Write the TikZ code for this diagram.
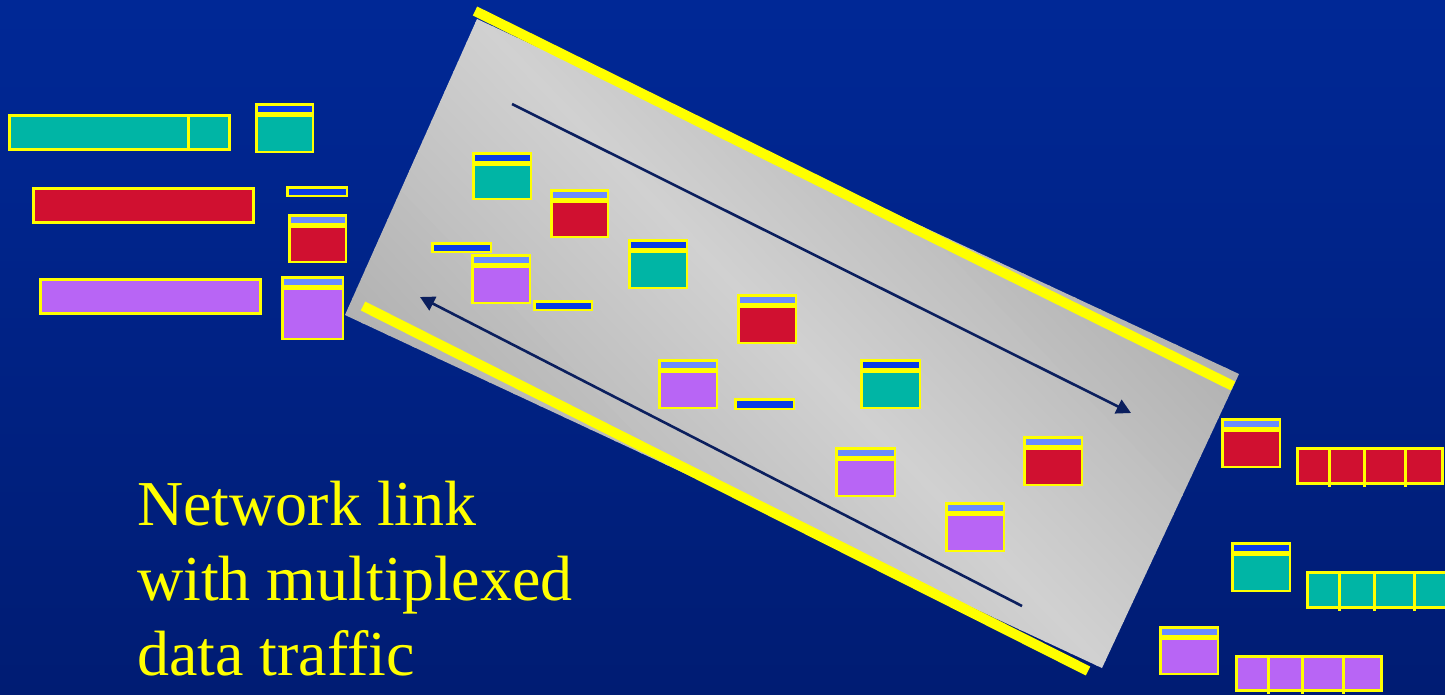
\documentclass[tikz,border=0pt]{standalone}
\usepackage{fontspec}
\setmainfont{Liberation Serif}
\usetikzlibrary{arrows.meta}
\definecolor{bgtop}{RGB}{0,40,150}
\definecolor{bgbot}{RGB}{0,28,115}
\definecolor{pyellow}{RGB}{255,255,0}
\definecolor{pteal}{RGB}{0,181,165}
\definecolor{pred}{RGB}{208,16,48}
\definecolor{ppurple}{RGB}{184,101,245}
\definecolor{hdark}{RGB}{10,60,230}
\definecolor{hlight}{RGB}{106,140,255}
\definecolor{navy}{RGB}{11,31,94}
\definecolor{bandlight}{RGB}{209,209,209}
\definecolor{banddark}{RGB}{176,176,176}
\tikzset{
  flowarrow/.style={draw=navy, line width=2.6pt, -{Triangle[length=14.5pt,width=15pt]}},
  railbar/.style={draw=pyellow, line width=10pt, line cap=butt},
  caption/.style={anchor=base west, text=pyellow, inner sep=0pt, font=\fontsize{64}{75}\selectfont},
  divider/.style={draw=pyellow, line width=3pt}
}
% packet: x1 y1 x2 y2 headercolour bodycolour
\newcommand{\pkt}[6]{%
  \fill[pyellow] (#1,#2) rectangle (#3,#4);
  \fill[#5] ({#1+2.5},{#2+2.5}) rectangle ({#3-2.5},{#2+9});
  \fill[#6] ({#1+2.5},{#2+13.5}) rectangle ({#3-2.5},{#4-2.5});}
% acknowledgement bar: x1 y1 x2 y2
\newcommand{\ackbar}[4]{%
  \fill[pyellow] (#1,#2) rectangle (#3,#4);
  \fill[hdark] ({#1+2.5},{#2+2.5}) rectangle ({#3-2.5},{#4-2.5});}
% long data bar: x1 y1 x2 y2 colour
\newcommand{\databar}[5]{%
  \fill[pyellow] (#1,#2) rectangle (#3,#4);
  \fill[#5] ({#1+3},{#2+3}) rectangle ({#3-3},{#4-3});}
\newcommand{\divat}[3]{\draw[divider] (#1,#2) -- (#1,#3);}
\begin{document}
\begin{tikzpicture}[x=1pt,y=-1pt]
\useasboundingbox (0,0) rectangle (1445,694);
\clip (0,0) rectangle (1445,694);
% background
\shade[top color=bgtop, bottom color=bgbot] (0,0) rectangle (1445,694);
% grey link band, shaded by strips
\begin{scope}
  \clip (477,19) -- (1239,374) -- (1102,668) -- (345,315) -- cycle;
  \begin{scope}[rotate around={44:(792,343)}]
    \foreach \i in {-34,...,34} {
      \pgfmathsetmacro{\t}{min(100,abs(\i)*10/320*100)}
      \fill[banddark!\t!bandlight] ({792+\i*10-5.5},{343-700}) rectangle ({792+\i*10+5.5},{343+700});
    }
  \end{scope}
\end{scope}
% yellow rails
\coordinate (r1a) at (475,11);
\coordinate (r1b) at (1233,386);
\coordinate (r2a) at (363,306);
\coordinate (r2b) at (1088,671);
\draw[railbar] (r1a) -- (r1b);
\draw[railbar] (r2a) -- (r2b);
% direction arrows
\coordinate (a1s) at (512,104);
\coordinate (a1e) at (1131,413);
\coordinate (a2s) at (1022,606);
\coordinate (a2e) at (420,297);
\draw[flowarrow] (a1s) -- (a1e);
\draw[flowarrow] (a2s) -- (a2e);
% left side: source data and packets
\databar{8}{114}{231}{151}{pteal}
\divat{188}{114}{151}
\pkt{255}{103}{314}{153}{hdark}{pteal}
\databar{32}{187}{255}{224}{pred}
\ackbar{286}{186}{348}{197}
\pkt{288}{214}{347}{263}{hlight}{pred}
\databar{39}{278}{262}{315}{ppurple}
\pkt{281}{276}{344}{340}{hlight}{ppurple}
% packets in the link
\pkt{472}{152}{532}{200}{hdark}{pteal}
\pkt{550}{189}{609}{238}{hlight}{pred}
\ackbar{431}{242}{492}{253}
\pkt{471}{254}{531}{304}{hlight}{ppurple}
\ackbar{533}{300}{593}{311}
\pkt{628}{239}{688}{289}{hdark}{pteal}
\pkt{737}{294}{797}{344}{hlight}{pred}
\pkt{658}{359}{718}{409}{hlight}{ppurple}
\ackbar{734}{398}{795}{410}
\pkt{860}{359}{921}{409}{hdark}{pteal}
\pkt{835}{447}{896}{497}{hlight}{ppurple}
\pkt{1023}{436}{1083}{486}{hlight}{pred}
\pkt{945}{502}{1005}{552}{hlight}{ppurple}
% right side: received packets and reassembled data
\pkt{1221}{418}{1281}{468}{hlight}{pred}
\databar{1296}{447}{1444}{485}{pred}
\divat{1329}{447}{487}
\divat{1364}{447}{487}
\divat{1405}{447}{487}
\pkt{1231}{542}{1291}{592}{hdark}{pteal}
\databar{1306}{571}{1460}{609}{pteal}
\divat{1339}{571}{611}
\divat{1374}{571}{611}
\divat{1414}{571}{611}
\pkt{1159}{626}{1219}{675}{hlight}{ppurple}
\databar{1235}{655}{1383}{692}{ppurple}
\divat{1268}{655}{694}
\divat{1302}{655}{694}
\divat{1343}{655}{694}
% caption
\node[caption] (t1) at (137,525) {Network link};
\node[caption] (t2) at (137,600) {with multiplexed};
\node[caption] (t3) at (137,675) {data traffic};
\end{tikzpicture}
\end{document}
